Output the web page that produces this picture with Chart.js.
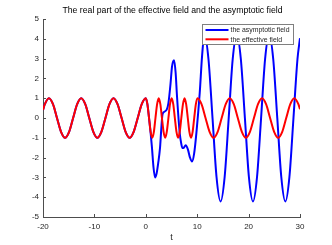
<!DOCTYPE html>
<html>
<head>
<meta charset="utf-8">
<script src="https://cdn.jsdelivr.net/npm/chart.js@4.4.0/dist/chart.umd.min.js"></script>
<style>
  html, body { margin: 0; padding: 0; background: #fff; }
  #wrap { width: 332px; height: 245px; }
</style>
</head>
<body>
<div id="wrap"><canvas id="fieldChart" width="332" height="245"></canvas></div>
<script>
const chartTitle = 'The real part of the effective field and the asymptotic field';
const xLabel = 't';
const xTicks = [-20, -10, 0, 10, 20, 30];
const yTicks = [-5, -4, -3, -2, -1, 0, 1, 2, 3, 4, 5];

// effective field (red)
const tEffective = [-20, -19.64, -18.85, -18.06, -17.28, -16.49, -15.71, -14.92, -14.14, -13.35,
  -12.57, -11.78, -11.0, -10.21, -9.42, -8.64, -7.85, -7.07, -6.28, -5.5,
  -4.71, -3.93, -3.14, -2.36, -1.57, -0.79, 0,
  0.31, 0.63, 0.94, 1.26, 1.57, 1.88, 2.2, 2.51, 2.83, 3.14, 3.46, 3.77, 4.08, 4.4,
  4.71, 5.03, 5.34, 5.65, 5.97, 6.28, 6.6, 6.91, 7.23, 7.54, 7.85, 8.17, 8.48, 8.8,
  9.11, 9.42, 9.74, 10.05,
  10.84, 11.62, 12.41, 13.19, 13.98, 14.76, 15.55, 16.33, 17.12, 17.9, 18.69, 19.47,
  20.26, 21.04, 21.83, 22.61, 23.4, 24.18, 24.97, 25.75, 26.54, 27.32, 28.11, 28.89,
  29.68, 30];
const effectiveField = [0.41, 0.7, 1, 0.7, 0, -0.7, -1, -0.7, 0, 0.7,
  1, 0.7, 0, -0.7, -1, -0.7, 0, 0.7, 1, 0.7,
  0, -0.7, -1, -0.7, 0, 0.7, 1,
  0.7, 0, -0.7, -1, -0.7, 0, 0.7, 1, 0.7, 0, -0.7, -1, -0.7, 0,
  0.7, 1, 0.7, 0, -0.7, -1, -0.7, 0, 0.7, 1, 0.7, 0, -0.7, -1,
  -0.7, 0, 0.7, 1,
  0.7, 0, -0.7, -1, -0.7, 0, 0.7, 1, 0.7, 0, -0.7, -1,
  -0.7, 0, 0.7, 1, 0.7, 0, -0.7, -1, -0.7, 0, 0.7, 1,
  0.7, 0.44];

// asymptotic field (blue), same as red before t = 0
const tAsymptotic = [-20, -19.64, -18.85, -18.06, -17.28, -16.49, -15.71, -14.92, -14.14, -13.35,
  -12.57, -11.78, -11.0, -10.21, -9.42, -8.64, -7.85, -7.07, -6.28, -5.5,
  -4.71, -3.93, -3.14, -2.36, -1.57, -0.79, 0,
  0.31, 0.63, 0.94, 1.2, 1.5, 1.8, 2.1, 2.4, 2.77, 3.0, 3.23, 3.5, 4.07, 4.4,
  4.8, 5.1, 5.49, 5.8, 6.07, 6.6, 6.9, 7.12, 7.4, 7.76, 8.2, 8.6, 8.99,
  9.4, 9.84, 10.49, 10.94, 11.4,
  12.19, 12.98, 13.76, 14.55, 15.34, 16.13, 16.91, 17.7, 18.49, 19.28, 20.06, 20.85,
  21.64, 22.43, 23.21, 24.0, 24.79, 25.58, 26.36, 27.15, 27.94, 28.73, 29.51, 30];
const asymptoticField = [0.41, 0.7, 1, 0.7, 0, -0.7, -1, -0.7, 0, 0.7,
  1, 0.7, 0, -0.7, -1, -0.7, 0, 0.7, 1, 0.7,
  0, -0.7, -1, -0.7, 0, 0.7, 1,
  0.7, 0, -0.75, -1.5, -2.5, -3.0, -2.8, -2.3, -1.5, -0.6, 0.15, 0.3, 0.42, 0.75,
  1.7, 2.6, 2.92, 2.3, 1.1, -0.76, -1.3, -1.52, -1.5, -1.38, -1.6, -2.0, -2.2,
  -1.8, -0.76, 1.26, 3.1, 4.22,
  2.98, 0, -2.98, -4.22, -2.98, 0, 2.98, 4.22, 2.98, 0, -2.98, -4.22,
  -2.98, 0, 2.98, 4.22, 2.98, 0, -2.98, -4.22, -2.98, 0, 2.98, 4.03];

const axisColor = '#262626';
const lineGray = '#4d4d4d';
const fontFamily = '"Liberation Sans", Arial, Helvetica, sans-serif';

function toPoints(ts, vs) {
  return ts.map((t, i) => ({ x: t, y: vs[i] }));
}

// title, inward tick marks and the legend box, like the matlab figure
const figurePlugin = {
  id: 'figurePlugin',
  afterDraw(chart) {
    const ctx = chart.ctx;
    const area = chart.chartArea;
    const xs = chart.scales.x, ys = chart.scales.y;
    ctx.save();
    ctx.strokeStyle = lineGray;
    ctx.lineWidth = 1;
    ctx.beginPath();
    xTicks.forEach(v => {
      const px = Math.round(xs.getPixelForValue(v)) + 0.5;
      ctx.moveTo(px, area.bottom);
      ctx.lineTo(px, area.bottom - 3);
    });
    yTicks.forEach(v => {
      const py = Math.round(ys.getPixelForValue(v)) + 0.5;
      ctx.moveTo(area.left, py);
      ctx.lineTo(area.left + 3, py);
    });
    ctx.stroke();

    ctx.fillStyle = '#000';
    ctx.font = '8.7px ' + fontFamily;
    ctx.textAlign = 'center';
    ctx.textBaseline = 'middle';
    ctx.fillText(chartTitle, (area.left + area.right) / 2 + 1, 11);

    // legend
    const lx = 202.5, ly = 24.5, lw = 91, lh = 20;
    ctx.fillStyle = '#fff';
    ctx.fillRect(lx, ly, lw, lh);
    ctx.strokeStyle = '#7f7f7f';
    ctx.strokeRect(lx, ly, lw, lh);
    ctx.font = '6.9px ' + fontFamily;
    ctx.textAlign = 'left';
    chart.data.datasets.forEach((ds, i) => {
      const y = ly + 5.5 + i * 9.3;
      ctx.strokeStyle = ds.borderColor;
      ctx.lineWidth = 2;
      ctx.beginPath();
      ctx.moveTo(lx + 3, y);
      ctx.lineTo(lx + 26, y);
      ctx.stroke();
      ctx.fillStyle = axisColor;
      ctx.fillText(ds.label, lx + 28, y + 0.5);
    });
    ctx.restore();
  }
};

new Chart(document.getElementById('fieldChart').getContext('2d'), {
  type: 'line',
  data: {
    datasets: [{
      label: 'the asymptotic field',
      data: toPoints(tAsymptotic, asymptoticField),
      borderColor: '#0000ff',
      borderWidth: 2,
      pointRadius: 0,
      cubicInterpolationMode: 'monotone',
      fill: false,
      order: 1
    }, {
      label: 'the effective field',
      data: toPoints(tEffective, effectiveField),
      borderColor: '#ff0000',
      borderWidth: 2,
      pointRadius: 0,
      cubicInterpolationMode: 'monotone',
      fill: false,
      order: 0
    }]
  },
  options: {
    responsive: false,
    animation: false,
    devicePixelRatio: 1,
    layout: { padding: { left: 0, right: 32, top: 19, bottom: 0 } },
    plugins: { legend: { display: false }, tooltip: { enabled: false }, title: { display: false } },
    scales: {
      x: {
        type: 'linear', min: -20, max: 30,
        afterBuildTicks: s => { s.ticks = xTicks.map(v => ({ value: v })); },
        afterFit: s => { s.height = 28; },
        grid: { display: true, drawOnChartArea: false, drawTicks: false },
        border: { display: true, color: lineGray, width: 1 },
        ticks: { color: axisColor, font: { size: 8, family: fontFamily }, padding: 5, maxRotation: 0 },
        title: { display: true, text: xLabel, color: axisColor, font: { size: 9, family: fontFamily }, padding: { top: 0, bottom: 2 } }
      },
      y: {
        type: 'linear', min: -5, max: 5,
        afterBuildTicks: s => { s.ticks = yTicks.map(v => ({ value: v })); },
        afterFit: s => { s.width = 43; },
        grid: { display: true, drawOnChartArea: false, drawTicks: false },
        border: { display: true, color: lineGray, width: 1 },
        ticks: { color: axisColor, font: { size: 8, family: fontFamily }, padding: 4 }
      }
    }
  },
  plugins: [figurePlugin]
});
</script>
</body>
</html>
